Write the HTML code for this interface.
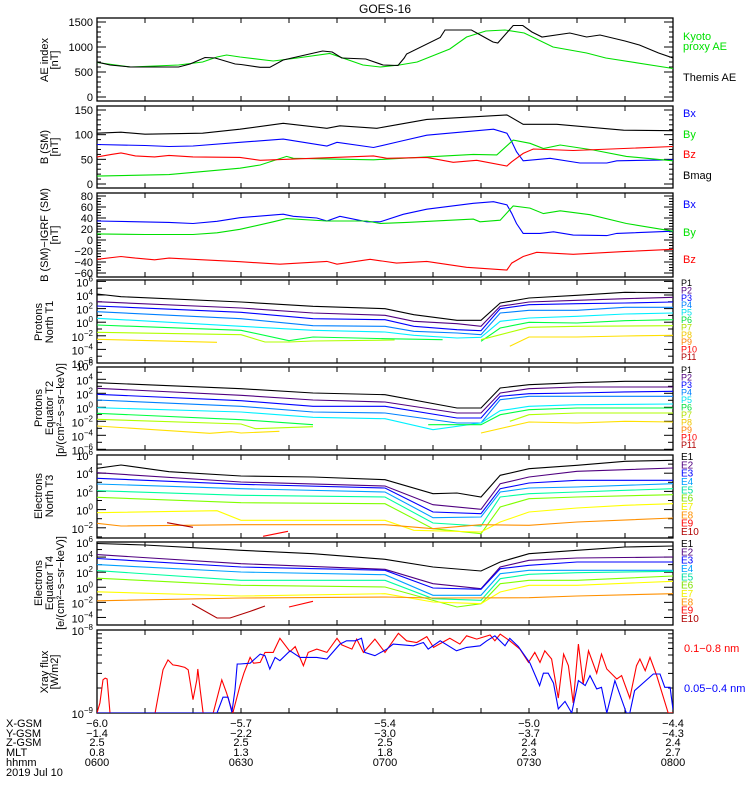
<!DOCTYPE html>
<html><head><meta charset="utf-8"><title>GOES-16</title>
<style>
html,body{margin:0;padding:0;background:#fff;}
svg{display:block;font-family:"Liberation Sans",sans-serif;}
</style></head>
<body>
<svg id="chart" width="750" height="800" viewBox="0 0 750 800">
<rect x="0" y="0" width="750" height="800" fill="#fff"/>
<text x="385" y="13" font-size="12" text-anchor="middle">GOES-16</text>
</svg>
<script>
// ---------- data (time = minutes after 0600 UT) ----------
const themisAE = [[0,700],[2.7,640],[7,600],[17,600],[19.4,660],[22.5,790],[24.6,780],[28.8,660],[30,650],[34,595],[36,595],[38.8,740],[47,920],[49,900],[51,780],[56,760],[59.6,640],[62.7,630],[64,780],[64.5,860],[71.5,1190],[72.5,1340],[78,1340],[81,1180],[82.5,1100],[83.5,1080],[86.7,1430],[88.7,1430],[90.6,1300],[92.7,1200],[98.5,1280],[102,1200],[104.8,1240],[110,1120],[113,1040],[117,880],[120,780]];
const kyotoAE = [[0,690],[7,600],[17,640],[22,700],[25,800],[27,840],[29.8,800],[36.7,720],[41.7,780],[48.5,870],[55.4,640],[59,600],[63,640],[66.7,700],[73.5,960],[77,1200],[81,1320],[85,1340],[89,1280],[95,1000],[102,880],[106,780],[120,570]];
const bmag = [[0,103],[5,105],[10,101],[22,103],[29.8,111],[38.8,123],[47.9,113],[50.6,118],[58.3,113],[62.4,120],[68.7,131],[85.4,140],[88.8,121],[95.8,121],[109.7,109],[120,108]];
const bx = [[0,80],[10,78],[15,76],[20,77],[29.8,84.5],[38.8,91],[47.9,77],[50,84.5],[57.6,74],[63.8,88],[68.7,99],[82.6,111],[85.4,103],[86.4,86],[87.4,65.5],[88.8,47],[94.4,52],[100.6,42.5],[106.2,42.5],[108.3,47],[120,49]];
const by = [[0,16],[15,19],[29.8,32],[34,38.5],[39.5,56],[40.9,52],[57.6,49],[68.7,55],[78.4,60],[83.3,59],[86.7,89],[90.2,82.5],[93,72],[96.5,79],[103.4,69],[110.3,56],[120,47]];
const bz = [[0,55],[3,60],[5,63],[8,57],[12,55],[15,58],[20,55],[29.8,54],[34,48],[57.6,57],[60.4,52],[68.7,54],[74.2,44],[79.1,48],[85.4,36.5],[86.4,45],[88.8,62],[90.9,71],[99.2,68],[109.7,72],[120,76]];
const dbx = [[0,34.5],[15,32],[20,30],[25,34],[29.8,40.6],[38.8,47],[40.9,43],[45.8,40],[47.9,34.5],[50.6,43],[56.2,33],[59,33],[63.8,46.7],[68.7,56],[78.4,66.7],[82.6,69.7],[85.4,64],[86.4,48.5],[87.4,30],[88.8,12],[92.3,12],[95.1,15],[99.2,9],[106.2,8],[108.3,12],[120,16]];
const dby = [[0,11],[10,10],[20,10],[25,13],[29.8,19.4],[36.7,33],[39.5,39],[47.9,34.5],[56.2,34.5],[59,30],[64.5,32],[78.4,38],[79.8,33],[84,36],[86.7,62],[90.2,58],[93,48],[96.5,53],[102.7,46],[110.3,30],[120,16]];
const dbz = [[0,-35],[5,-30],[8,-33],[12,-36],[15,-33],[20,-35],[29.8,-39.4],[38.1,-44],[47.9,-39],[50,-44],[56.9,-35],[62.4,-42],[68.7,-39],[77,-49.7],[85.4,-54.5],[86.4,-42],[88.8,-30],[91.6,-22.4],[99.2,-26],[109.7,-21],[120,-17]];
// protons north T1 (log10 flux)
const pnT = [0,30,45,60,66,75,80,84,90,100,110,120];
const pn1 = [[0,4.15],[5,3.75],[30,2.97],[45,2.34],[60,1.99],[66,1.1],[75,0.28],[80,0.28],[84,2.82],[90,3.56],[100,3.96],[110,4.4],[120,4.34]];
const pn2 = [3.01,2.09,1.35,1.01,0.13,-0.22,-0.6,2.34,2.97,3.22,3.46,3.66];
const pn3 = [2.38,1.46,0.51,0.37,-0.6,-1.1,-1.25,1.99,2.57,2.72,2.82,2.97];
const pn4 = [1.54,0.51,-0.51,-0.6,-1.34,-1.59,-1.84,1.35,1.75,1.75,2.19,2.19];
const pn5 = [0.57,-0.6,-1.19,-1.44,-1.93,-2.32,-2.22,0.13,0.62,0.87,1.21,1.35];
const pn6 = [[0,-0.41],[30,-1.19],[40,-2.72],[45,-2.18],[60,-2.43],[72,-2.57],null,[80,-2.81],[84,-0.85],[90,-0.01],[100,-0.12],[110,0.22],[120,0.37]];
const pn7 = [[0,-1.49],[30,-1.84],[35,-2.91],[40,-2.91],[45,-2.76],[62,-2.62],null,[80,-2.57],[90,-0.75],[100,-0.6],[120,-0.51]];
const pn8 = [[0,-2.51],[25,-2.96],null,[86,-3.54],[90,-2.18],[100,-2.18],[110,-2.03],[120,-1.93]];
// protons equator T2
const peT = [0,30,45,60,75,80,84,90,100,110,120];
const pe1 = [3.51,2.66,2.04,1.8,-0.1,-0.1,2.76,3.23,3.51,3.71,3.71];
const pe2 = [2.71,1.71,1.04,0.76,-0.81,-0.81,2.04,2.66,2.9,2.9,2.9];
const pe3 = [1.86,0.94,0.14,0.14,-1.53,-1.53,1.57,1.94,2.04,2.2,2.29];
const pe4 = [1.04,0.14,-0.67,-0.81,-2.24,-2.24,1.09,1.57,1.57,1.57,1.57];
const pe5 = [[0,-0.06],[30,-0.67],[45,-1.43],[60,-1.63],[70,-3.2],[80,-2.24],[84,-0.49],[90,0.14],[100,0.37],[120,0.47]];
const pe6 = [[0,-0.86],[30,-1.77],[45,-2.49],null,[69,-2.49],[80,-2.49],[84,-1.06],[90,-0.34],[100,-0.1],[120,-0.1]];
const pe7 = [[0,-1.71],[30,-2.39],[33,-3.06],[45,-2.77],null,[86,-2],[90,-1.06],[100,-0.81],[120,-0.81]];
const pe8 = [[0,-2.67],[23.5,-3.71],[28,-3.49],[30,-3.67],[38,-3.43],null,[80,-3.67],[90,-2.1],[100,-2.24],[110,-2],[120,-2.1]];
// electrons north T3
const enT = [0,30,60,70,80,84,90,100,120];
const en1 = [[0,4.54],[5,4.9],[15,4.16],[30,3.69],[45,3.58],[60,3.29],[70,1.75],[75,1.82],[80,1.38],[84,3.77],[90,4.49],[100,4.87],[110,5.31],[120,5.42]];
const en2 = [4.05,3.03,2.59,0.54,0.03,2.85,3.58,4.21,4.57];
const en3 = [3.44,2.78,2.37,-0.26,-0.45,2.3,2.92,3.22,3.22];
const en4 = [2.81,2.3,1.93,-0.89,-0.81,1.93,2.37,2.48,2.85];
const en5 = [2.08,1.57,1.38,-1.47,-1.8,1.38,1.75,1.93,2.3];
const en6 = [1.35,0.76,0.65,-2.1,-2.65,0.29,1.2,1.38,1.64];
const en7 = [[0,-0.34],[25,-0.12],[30,-1.18],[60,-1.18],[66,-2.27],[80,-2.46],[84,-1.36],[90,-0.26],[100,0.18],[110,0.47],[120,0.65]];
const en8 = [[0,-1.51],[5,-1.8],[30,-1.66],[60,-1.66],[70,-2.1],[80,-1.66],[90,-1.73],[100,-1.36],[120,-0.92]];
const en9 = [[34.6,-2.93],[39.8,-2.38]];
const en10 = [[14.6,-1.44],[20,-1.95]];
// electrons equator T4
const eeT = [0,30,60,70,80,84,90,100,120];
const ee1 = [[0,5.8],[10,5.6],[30,4.9],[45,4.45],[60,3.71],[70,2.69],[80,2.16],[84,3.35],[90,4.45],[100,4.9],[110,5.34],[120,5.47]];
const ee2 = [4.33,3.12,2.38,0.47,-0.19,2.69,3.57,3.88,4.01];
const ee3 = [3.81,2.69,2.25,-0.1,-0.27,2.46,2.91,3.35,3.35];
const ee4 = [3.0,2.02,1.67,-1.06,-1.06,1.8,2.25,2.25,2.25];
const ee5 = [2.21,0.92,0.92,-1.51,-1.73,1.14,1.72,1.93,2.12];
const ee6 = [[0,1.2],[30,0.26],[60,0.04],[75,-2.61],[80,-2.18],[84,0.47],[90,0.92],[100,0.92],[120,1.49]];
const ee7 = [[0,-0.6],[30,-1.16],[60,-0.85],[70,-1.95],[80,-2.18],[84,-0.63],[90,0.26],[100,0.26],[120,0.79]];
const ee8 = [[0,-1.79],[30,-1.42],[60,-1.29],[70,-1.42],[90,-1.38],[100,-1.16],[120,-0.85]];
const ee9 = [[40,-2.61],[45,-1.86]];
const ee10 = [[19.8,-2.2],[25,-4.07],[27.7,-4.07],[31.9,-3.2],[35,-2.48]];
// X-ray flux: decades above 1e-9 W/m2
const xrayLong = [[0,0],[0.6,0.12],[1.25,0.4],[1.7,0.42],[2.1,0.41],[2.7,0],[12.1,0],[13.75,0.52],[14.8,0.64],[15.8,0.58],[16.9,0.57],[18.3,0.55],[19,0.52],[20,0.16],[20.8,0.4],[21,0.53],[21.5,0.28],[22.1,0],[24.2,0],[26,0.4],[27,0.24],[28.3,0],[29.8,0.33],[30.6,0.48],[31.9,0.67],[32.6,0.6],[34,0.61],[35,0.73],[36.7,0.73],[38.1,0.9],[40.2,0.74],[41.3,0.8],[43,0.57],[44,0.73],[45.8,0.77],[47.9,0.73],[50,0.9],[51,0.82],[53.1,0.77],[54.1,0.89],[55.5,0.73],[57.9,0.89],[60,0.73],[62.8,0.96],[64.5,0.87],[66.6,0.85],[68.7,0.92],[70.1,0.79],[73.5,0.9],[75.6,0.83],[77,0.93],[79.1,0.89],[81.9,0.94],[82.9,0.87],[84,0.95],[86,0.87],[88.1,0.77],[89.9,0.61],[91.2,0.73],[92.3,0.61],[93.3,0.75],[94.7,0.65],[96.1,0.18],[97.2,0.71],[98.2,0.57],[99.2,0.12],[100.3,0.83],[101.3,0.35],[102.4,0.75],[104.1,0.48],[105.1,0.71],[106.2,0.53],[108.3,0.41],[109.3,0.45],[111,0.18],[112.4,0.57],[113.1,0.65],[114.2,0.51],[115.2,0.67],[116.6,0.45],[119,0],[120,0]];
const xrayShort = [[0,0],[25,0],[26.25,0.19],[27.3,0.19],[28.1,0.01],[28.75,0.28],[29.2,0.59],[29.8,0.59],[31.9,0.6],[34,0.71],[35,0.69],[36,0.53],[37.1,0.67],[38.1,0.63],[40.2,0.75],[42.3,0.67],[45.8,0.67],[47.9,0.65],[50.6,0.83],[52,0.87],[53.8,0.87],[55.1,0.9],[55.8,0.73],[57.9,0.69],[60.4,0.77],[61.7,0.83],[65.9,0.81],[68,0.85],[69,0.77],[71.5,0.87],[74.9,0.75],[77,0.79],[79.8,0.81],[81.2,0.87],[82.9,0.93],[85,0.81],[86,0.9],[87.8,0.8],[90.2,0.6],[92.2,0.33],[93,0.48],[94,0.48],[95.1,0.36],[96.1,0.05],[97.5,0.14],[98.9,0],[100.3,0.39],[101.7,0.33],[102.7,0.45],[104.1,0.29],[105.1,0.31],[106.2,0],[107.9,0.39],[110.3,0],[111,0],[112,0.27],[115.9,0.47],[117.3,0.47],[118.3,0.31],[119.4,0.31],[120,0.04]];
// orbit / time annotation
const xgsm = ["-6.0","-5.7","-5.4","-5.0","-4.4"];
const ygsm = ["-1.4","-2.2","-3.0","-3.7","-4.3"];
const zgsm = ["2.5","2.5","2.5","2.4","2.4"];
const mlt = ["0.8","1.3","1.8","2.3","2.7"];
const hhmm = ["0600","0630","0700","0730","0800"];
const hhmmMinutes = [0,30,60,90,120];

// ---------- drawing ----------
const NS="http://www.w3.org/2000/svg";
const svg=document.getElementById('chart');
const X0=97, X1=673;
const xT=t=>X0+t*(X1-X0)/120;
function el(tag,attrs,parent){const e=document.createElementNS(NS,tag);for(const k in attrs)e.setAttribute(k,attrs[k]);(parent||svg).appendChild(e);return e;}
const panels=[
 {key:'ae',top:18,bot:101,y:v=>97-v*0.05},
 {key:'bsm',top:106,bot:188,y:v=>184-v*0.4933},
 {key:'bigrf',top:193,bot:277,y:v=>240-v*0.55},
 {key:'pn',top:280,bot:363,y:e=>295-(e-4)*6.8},
 {key:'pe',top:367,bot:450,y:e=>379.3-(e-4)*7},
 {key:'en',top:455,bot:538,y:e=>455+(6-e)*9.1},
 {key:'ee',top:542,bot:625,y:e=>542+(6-e)*7.545},
 {key:'xr',top:630,bot:713,y:d=>713-d*83}
];
const defs=el('defs',{});
panels.forEach((p,i)=>{const c=el('clipPath',{id:'clip'+i},defs);el('rect',{x:X0,y:p.top,width:X1-X0,height:p.bot-p.top},c);});
function zip(ts,vs){return ts.map((t,i)=>[t,vs[i]]);}
function line(pi,arr,color,name){
 const p=panels[pi];let d='',pen=false;
 for(const q of arr){if(q===null){pen=false;continue;}d+=(pen?'L':'M')+xT(q[0]).toFixed(1)+','+p.y(q[1]).toFixed(1);pen=true;}
 const e=el('path',{d:d,fill:'none',stroke:color,'stroke-width':1.1,'clip-path':'url(#clip'+pi+')'});
 
 
}
function txt(x,y,s,opt,name){
 const e=el('text',Object.assign({x:x,y:y,'font-size':11},opt||{}));e.textContent=s;
 
 
 return e;
}
function powLabel(x,y,exp,name){
 const e=el('text',{x:x,y:y,'font-size':11,'text-anchor':'end'});
 
 
 const a=el('tspan',{},e);a.textContent='10';
 const b=el('tspan',{dy:-5,'font-size':8},e);b.textContent=String(exp).replace('-','\u2212');
 return e;
}
// frames, x ticks
panels.forEach((p,i)=>{
 const r=el('rect',{x:X0,y:p.top,width:X1-X0,height:p.bot-p.top,fill:'none',stroke:'#000','stroke-width':1.3});
 
 
 for(let t=10;t<120;t+=10){const x=xT(t);el('line',{x1:x,x2:x,y1:p.top,y2:p.top+5,stroke:'#000'});el('line',{x1:x,x2:x,y1:p.bot,y2:p.bot-5,stroke:'#000'});}
});
function ytick(p,v,len){const y=p.y(v);if(y<p.top-0.5||y>p.bot+0.5)return;el('line',{x1:X0,x2:X0+len,y1:y,y2:y,stroke:'#000'});el('line',{x1:X1,x2:X1-len,y1:y,y2:y,stroke:'#000'});}
// linear axes
[[0,0,1500,100,500],[1,0,150,10,50],[2,-60,80,5,20]].forEach(([pi,lo,hi,mn,mj])=>{
 const p=panels[pi];
 for(let v=lo;v<=hi+1e-9;v+=mn)ytick(p,v,(Math.abs(v%mj)<1e-9)?9:4);
 for(let v=lo;v<=hi+1e-9;v+=mj)txt(93,p.y(v)+4,String(v).replace('-','\u2212'),{'text-anchor':'end'},'y-tick-label-'+p.key);
});
// log axes (labels every 2 decades counting down from the top)
[[3,-6,6],[4,-6,6],[5,-3,6],[6,-4,6]].forEach(([pi,lo,hi])=>{
 const p=panels[pi];
 for(let e=lo-1;e<=hi;e++)ytick(p,e,(Math.abs(e%2)===0)?9:5);
 for(let e=hi;e>=lo;e-=2)powLabel(93,p.y(e)+5,e,'y-tick-label-'+p.key);
});
{const p=panels[7];for(let k=2;k<10;k++)ytick(p,Math.log10(k),5);ytick(p,0,9);ytick(p,1,9);
 powLabel(93,p.bot+5,-9,'y-tick-label-xr');powLabel(93,p.top+5,-8,'y-tick-label-xr');}
// series
line(0,kyotoAE,'#00e000','kyoto-ae-line');line(0,themisAE,'#000','themis-ae-line');
line(1,bmag,'#000','bmag-line');line(1,bx,'#0000ff','bx-line');line(1,by,'#00e000','by-line');line(1,bz,'#ff0000','bz-line');
line(2,dbx,'#0000ff','dbx-line');line(2,dby,'#00e000','dby-line');line(2,dbz,'#ff0000','dbz-line');
const PC=['#000','#500080','#0000ff','#0080ff','#00f0ff','#00ff40','#b0ff00','#ffe000','#ff8000','#ff0000','#b00000'];
const EC=['#000','#500080','#0000ff','#00a0ff','#00ffa0','#80ff00','#ffff00','#ff9000','#ff0000','#b00000'];
[pn1,zip(pnT,pn2),zip(pnT,pn3),zip(pnT,pn4),zip(pnT,pn5),pn6,pn7,pn8].forEach((s,i)=>line(3,s,PC[i],'proton-north-p'+(i+1)));
[zip(peT,pe1),zip(peT,pe2),zip(peT,pe3),zip(peT,pe4),pe5,pe6,pe7,pe8].forEach((s,i)=>line(4,s,PC[i],'proton-equator-p'+(i+1)));
[en1,zip(enT,en2),zip(enT,en3),zip(enT,en4),zip(enT,en5),zip(enT,en6),en7,en8,en9,en10].forEach((s,i)=>line(5,s,EC[i],'electron-north-e'+(i+1)));
[ee1,zip(eeT,ee2),zip(eeT,ee3),zip(eeT,ee4),zip(eeT,ee5),ee6,ee7,ee8,ee9,ee10].forEach((s,i)=>line(6,s,EC[i],'electron-equator-e'+(i+1)));
line(7,xrayLong,'#ff0000','xray-long-line');line(7,xrayShort,'#0000ff','xray-short-line');
// legends
txt(683,40,'Kyoto',{fill:'#00e000','font-size':11},'legend-kyoto');
txt(683,50,'proxy AE',{fill:'#00e000','font-size':11},'legend-kyoto');
txt(683,81,'Themis AE',{fill:'#000','font-size':11},'legend-themis');
[['Bx','#0000ff',117],['By','#00e000',138],['Bz','#ff0000',158],['Bmag','#000',179]].forEach(a=>txt(683,a[2],a[0],{fill:a[1]},'legend-'+a[0].toLowerCase()));
[['Bx','#0000ff',208],['By','#00e000',236],['Bz','#ff0000',263]].forEach(a=>txt(683,a[2],a[0],{fill:a[1]},'legend-igrf-'+a[0].toLowerCase()));
const lc=['#000','#500080','#0000ff','#0080ff','#00e0f0','#00e040','#b0e000','#f0c800','#ff8000','#ff0000','#b00000'];
for(let i=0;i<11;i++){txt(681,286+i*7.4,'P'+(i+1),{fill:lc[i],'font-size':9},'legend-pn-p'+(i+1));txt(681,373+i*7.5,'P'+(i+1),{fill:lc[i],'font-size':9},'legend-pe-p'+(i+1));}
const le=['#000','#500080','#0000ff','#00a0ff','#00e0a0','#80e000','#f0f000','#ff9000','#ff0000','#b00000'];
for(let i=0;i<10;i++){txt(681,460+i*8.33,'E'+(i+1),{fill:le[i],'font-size':10},'legend-en-e'+(i+1));txt(681,547+i*8.33,'E'+(i+1),{fill:le[i],'font-size':10},'legend-ee-e'+(i+1));}
txt(684,652,'0.1\u22120.8 nm',{fill:'#ff0000'},'legend-xray-long');
txt(684,692,'0.05\u22120.4 nm',{fill:'#0000ff'},'legend-xray-short');
// y-axis titles
function vt(x,yc,s,name,fs){const e=txt(x,yc,s,{'text-anchor':'middle','font-size':fs||11,transform:'rotate(-90 '+x+' '+yc+')'},name);}
vt(48,60,'AE index','y-axis-title-ae');vt(58,60,'[nT]','y-axis-title-ae-unit');
vt(48,147,'B (SM)','y-axis-title-bsm');vt(58,147,'[nT]','y-axis-title-bsm-unit');
vt(48,235,'B (SM)\u2212IGRF (SM)','y-axis-title-bigrf');vt(58,235,'[nT]','y-axis-title-bigrf-unit');
vt(42,322,'Protons','y-axis-title-pn');vt(53,322,'North T1','y-axis-title-pn-2');
vt(42,408,'Protons','y-axis-title-pe');vt(53,408,'Equator T2','y-axis-title-pe-2');vt(64,410,'[p/(cm\u00b2\u2212s\u2212sr\u2212keV)]','y-axis-title-pe-unit');
vt(42,496,'Electrons','y-axis-title-en');vt(53,496,'North T3','y-axis-title-en-2');
vt(42,583,'Electrons','y-axis-title-ee');vt(53,583,'Equator T4','y-axis-title-ee-2');vt(64,583,'[e/(cm\u00b2\u2212s\u2212sr\u2212keV)]','y-axis-title-ee-unit');
vt(48,672,'Xray flux','y-axis-title-xray');vt(58,672,'[W/m2]','y-axis-title-xray-unit');
// bottom annotation
const rows=[['X-GSM',xgsm,727],['Y-GSM',ygsm,737],['Z-GSM',zgsm,746],['MLT',mlt,756],['hhmm',hhmm,766]];
rows.forEach(r=>{txt(6,r[2],r[0],{},'row-label-'+r[0].toLowerCase());
 r[1].forEach((s,i)=>txt(xT(hhmmMinutes[i]),r[2],s.replace('-','\u2212'),{'text-anchor':'middle'},'row-value-'+r[0].toLowerCase()));});
txt(6,776,'2019 Jul 10',{},'date-label');
</script>
</body></html>
